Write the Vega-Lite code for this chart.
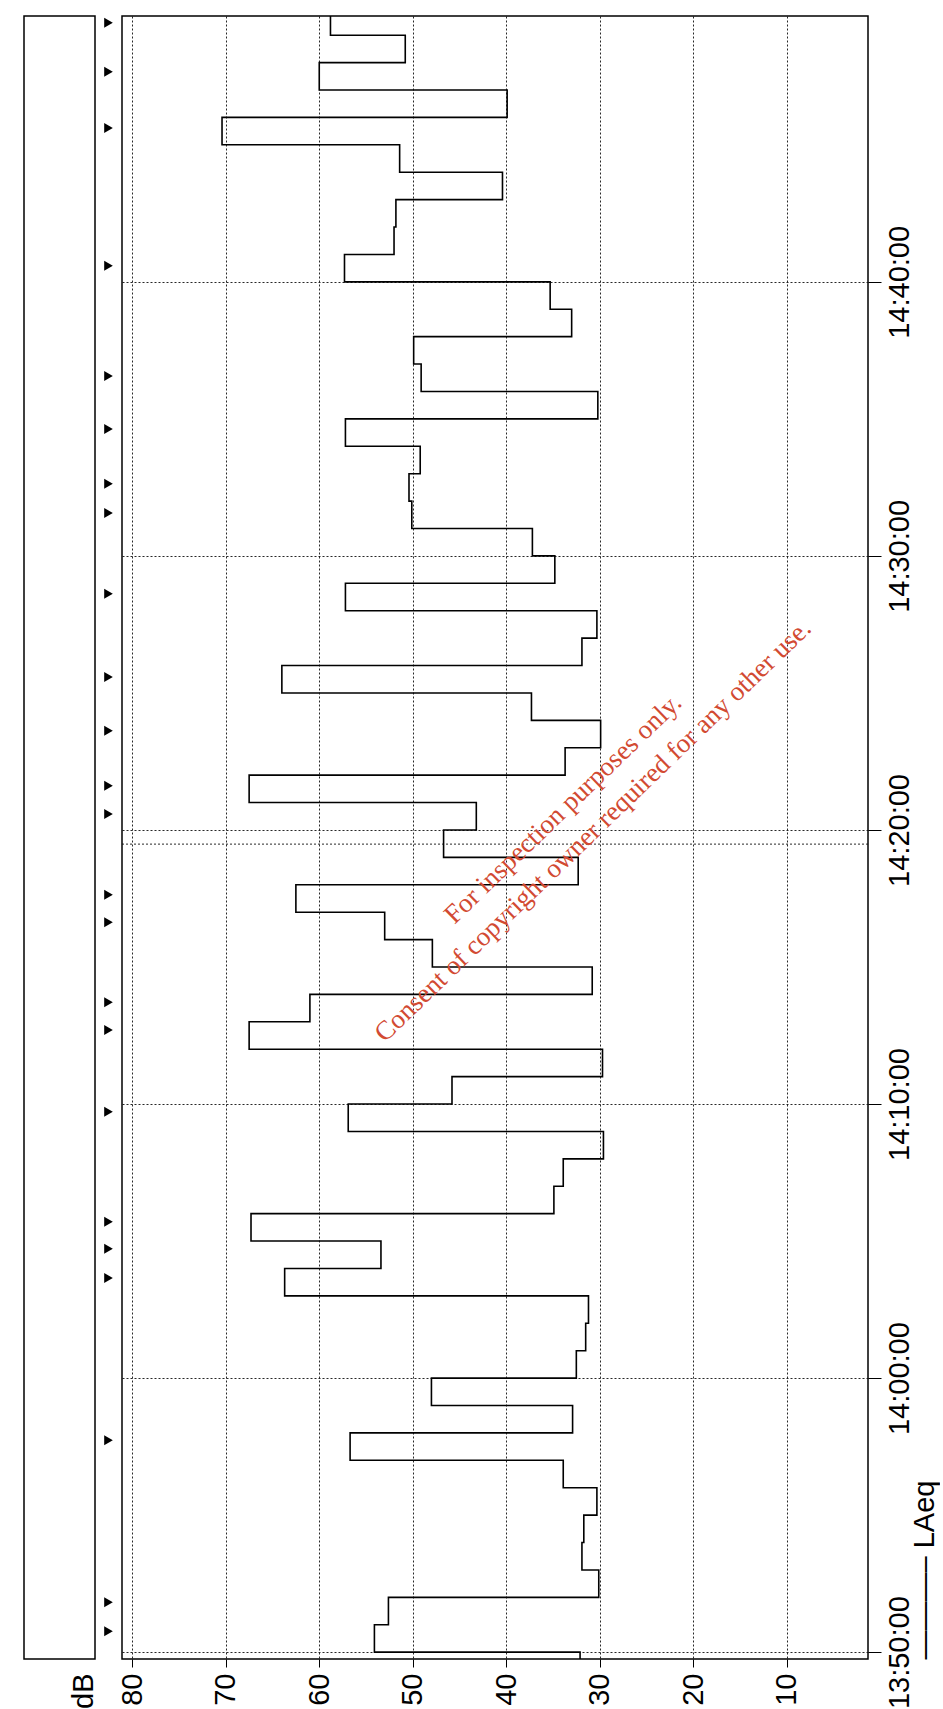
{
  "$schema": "https://vega.github.io/schema/vega-lite/v6.json",
  "background": "white",
  "padding": {"left": 23, "top": 12, "right": 0, "bottom": 0},
  "spacing": 0,
  "bounds": "flush",
  "config": {
    "view": {"stroke": "#000", "strokeWidth": 1.5},
    "font": "Liberation Sans",
    "axis": {
      "labelFont": "Liberation Sans", "titleFont": "Liberation Sans",
      "labelColor": "#000", "titleColor": "#000", "tickColor": "#000",
      "labelFontSize": 29, "titleFontSize": 29, "titleFontWeight": "normal",
      "domain": false, "grid": true, "gridColor": "#111", "gridDash": [2, 2], "gridWidth": 1, "gridOpacity": 0.9,
      "labelOverlap": false, "labelFlush": false, "labelBound": false, "tickWidth": 1
    }
  },
  "datasets": {
    "laeq": [
      {"t": "2000-01-01T13:49:45Z", "LAeq": 32.1},
      {"t": "2000-01-01T13:50:00Z", "LAeq": 54.1},
      {"t": "2000-01-01T13:51:00Z", "LAeq": 52.6},
      {"t": "2000-01-01T13:52:00Z", "LAeq": 30.1},
      {"t": "2000-01-01T13:53:00Z", "LAeq": 31.9},
      {"t": "2000-01-01T13:54:00Z", "LAeq": 31.7},
      {"t": "2000-01-01T13:55:00Z", "LAeq": 30.3},
      {"t": "2000-01-01T13:56:00Z", "LAeq": 33.9},
      {"t": "2000-01-01T13:57:00Z", "LAeq": 56.7},
      {"t": "2000-01-01T13:58:00Z", "LAeq": 32.9},
      {"t": "2000-01-01T13:59:00Z", "LAeq": 48.0},
      {"t": "2000-01-01T14:00:00Z", "LAeq": 32.5},
      {"t": "2000-01-01T14:01:00Z", "LAeq": 31.5},
      {"t": "2000-01-01T14:02:00Z", "LAeq": 31.2},
      {"t": "2000-01-01T14:03:00Z", "LAeq": 63.7},
      {"t": "2000-01-01T14:04:00Z", "LAeq": 53.4},
      {"t": "2000-01-01T14:05:00Z", "LAeq": 67.3},
      {"t": "2000-01-01T14:06:00Z", "LAeq": 34.9},
      {"t": "2000-01-01T14:07:00Z", "LAeq": 33.9},
      {"t": "2000-01-01T14:08:00Z", "LAeq": 29.6},
      {"t": "2000-01-01T14:09:00Z", "LAeq": 56.9},
      {"t": "2000-01-01T14:10:00Z", "LAeq": 45.8},
      {"t": "2000-01-01T14:11:00Z", "LAeq": 29.7},
      {"t": "2000-01-01T14:12:00Z", "LAeq": 67.5},
      {"t": "2000-01-01T14:13:00Z", "LAeq": 61.0},
      {"t": "2000-01-01T14:14:00Z", "LAeq": 30.8},
      {"t": "2000-01-01T14:15:00Z", "LAeq": 47.9},
      {"t": "2000-01-01T14:16:00Z", "LAeq": 53.0},
      {"t": "2000-01-01T14:17:00Z", "LAeq": 62.5},
      {"t": "2000-01-01T14:18:00Z", "LAeq": 32.3},
      {"t": "2000-01-01T14:19:00Z", "LAeq": 46.7},
      {"t": "2000-01-01T14:20:00Z", "LAeq": 43.2},
      {"t": "2000-01-01T14:21:00Z", "LAeq": 67.5},
      {"t": "2000-01-01T14:22:00Z", "LAeq": 33.7},
      {"t": "2000-01-01T14:23:00Z", "LAeq": 29.9},
      {"t": "2000-01-01T14:24:00Z", "LAeq": 37.3},
      {"t": "2000-01-01T14:25:00Z", "LAeq": 64.0},
      {"t": "2000-01-01T14:26:00Z", "LAeq": 31.9},
      {"t": "2000-01-01T14:27:00Z", "LAeq": 30.3},
      {"t": "2000-01-01T14:28:00Z", "LAeq": 57.2},
      {"t": "2000-01-01T14:29:00Z", "LAeq": 34.8},
      {"t": "2000-01-01T14:30:00Z", "LAeq": 37.2},
      {"t": "2000-01-01T14:31:00Z", "LAeq": 50.1},
      {"t": "2000-01-01T14:32:00Z", "LAeq": 50.4},
      {"t": "2000-01-01T14:33:00Z", "LAeq": 49.2},
      {"t": "2000-01-01T14:34:00Z", "LAeq": 57.2},
      {"t": "2000-01-01T14:35:00Z", "LAeq": 30.2},
      {"t": "2000-01-01T14:36:00Z", "LAeq": 49.1},
      {"t": "2000-01-01T14:37:00Z", "LAeq": 49.9},
      {"t": "2000-01-01T14:38:00Z", "LAeq": 33.0},
      {"t": "2000-01-01T14:39:00Z", "LAeq": 35.3},
      {"t": "2000-01-01T14:40:00Z", "LAeq": 57.3},
      {"t": "2000-01-01T14:41:00Z", "LAeq": 52.0},
      {"t": "2000-01-01T14:42:00Z", "LAeq": 51.8},
      {"t": "2000-01-01T14:43:00Z", "LAeq": 40.4},
      {"t": "2000-01-01T14:44:00Z", "LAeq": 51.4},
      {"t": "2000-01-01T14:45:00Z", "LAeq": 70.4},
      {"t": "2000-01-01T14:46:00Z", "LAeq": 39.9},
      {"t": "2000-01-01T14:47:00Z", "LAeq": 60.0},
      {"t": "2000-01-01T14:48:00Z", "LAeq": 50.8},
      {"t": "2000-01-01T14:49:00Z", "LAeq": 58.8},
      {"t": "2000-01-01T14:49:42Z", "LAeq": 58.8}
    ],
    "events": [
      {"t": "2000-01-01T13:50:46Z"},
      {"t": "2000-01-01T13:51:49Z"},
      {"t": "2000-01-01T13:57:44Z"},
      {"t": "2000-01-01T14:03:39Z"},
      {"t": "2000-01-01T14:04:43Z"},
      {"t": "2000-01-01T14:05:42Z"},
      {"t": "2000-01-01T14:09:43Z"},
      {"t": "2000-01-01T14:12:42Z"},
      {"t": "2000-01-01T14:13:43Z"},
      {"t": "2000-01-01T14:16:38Z"},
      {"t": "2000-01-01T14:17:38Z"},
      {"t": "2000-01-01T14:20:35Z"},
      {"t": "2000-01-01T14:21:37Z"},
      {"t": "2000-01-01T14:23:37Z"},
      {"t": "2000-01-01T14:25:35Z"},
      {"t": "2000-01-01T14:28:37Z"},
      {"t": "2000-01-01T14:31:34Z"},
      {"t": "2000-01-01T14:32:38Z"},
      {"t": "2000-01-01T14:34:38Z"},
      {"t": "2000-01-01T14:36:34Z"},
      {"t": "2000-01-01T14:40:35Z"},
      {"t": "2000-01-01T14:45:37Z"},
      {"t": "2000-01-01T14:47:40Z"},
      {"t": "2000-01-01T14:49:27Z"}
    ],
    "extra": [
      {"t": "2000-01-01T14:19:29Z"}
    ],
    "notes": [
      {"t": "2000-01-01T14:20:46Z", "dB": 33.9, "note": "For inspection purposes only."},
      {"t": "2000-01-01T14:19:58Z", "dB": 30.7, "note": "Consent of copyright owner required for any other use."}
    ]
  },
  "hconcat": [
    {
      "width": 71,
      "height": 1643,
      "view": {"stroke": "#000", "strokeWidth": 1.5},
      "data": {"name": "events"},
      "mark": {"type": "point", "opacity": 0},
      "encoding": {
        "y": {
          "field": "t", "type": "temporal",
          "scale": {"type": "utc", "nice": false, "domain": [
            {"year": 2000, "month": 1, "date": 1, "hours": 13, "minutes": 49, "seconds": 45, "utc": true},
            {"year": 2000, "month": 1, "date": 1, "hours": 14, "minutes": 49, "seconds": 42, "utc": true}
          ]},
          "axis": null
        }
      }
    },
    {
      "width": 27,
      "height": 1643,
      "view": {"stroke": null},
      "data": {"name": "events"},
      "mark": {"type": "point", "shape": "triangle-right", "filled": true, "color": "#000", "size": 100, "opacity": 1},
      "encoding": {
        "y": {
          "field": "t", "type": "temporal",
          "scale": {"type": "utc", "nice": false, "domain": [
            {"year": 2000, "month": 1, "date": 1, "hours": 13, "minutes": 49, "seconds": 45, "utc": true},
            {"year": 2000, "month": 1, "date": 1, "hours": 14, "minutes": 49, "seconds": 42, "utc": true}
          ]},
          "axis": null
        }
      }
    },
    {
      "width": 746,
      "height": 1643,
      "encoding": {
        "y": {
          "field": "t", "type": "temporal",
          "scale": {"type": "utc", "nice": false, "domain": [
            {"year": 2000, "month": 1, "date": 1, "hours": 13, "minutes": 49, "seconds": 45, "utc": true},
            {"year": 2000, "month": 1, "date": 1, "hours": 14, "minutes": 49, "seconds": 42, "utc": true}
          ]},
          "axis": {
            "orient": "right",
            "title": "———–  LAeq",
            "values": [
              {"year": 2000, "month": 1, "date": 1, "hours": 13, "minutes": 50, "utc": true},
              {"year": 2000, "month": 1, "date": 1, "hours": 14, "minutes": 0, "utc": true},
              {"year": 2000, "month": 1, "date": 1, "hours": 14, "minutes": 10, "utc": true},
              {"year": 2000, "month": 1, "date": 1, "hours": 14, "minutes": 20, "utc": true},
              {"year": 2000, "month": 1, "date": 1, "hours": 14, "minutes": 30, "utc": true},
              {"year": 2000, "month": 1, "date": 1, "hours": 14, "minutes": 40, "utc": true}
            ],
            "labelExpr": "utcFormat(datum.value, '%H:%M:%S')",
            "labelAngle": 270, "labelAlign": "center", "labelBaseline": "top", "labelPadding": 4, "tickSize": 13,
            "titleAngle": 270, "titleAlign": "left", "titleBaseline": "alphabetic", "titleX": 65, "titleY": 1643
          }
        }
      },
      "layer": [
        {
          "data": {"name": "extra"},
          "mark": {"type": "rule", "strokeDash": [2, 2], "color": "#111", "strokeWidth": 1, "opacity": 0.9}
        },
        {
          "data": {"name": "laeq"},
          "mark": {"type": "line", "interpolate": "step-before", "orient": "vertical", "color": "#000", "strokeWidth": 1.6},
          "encoding": {
            "x": {
              "field": "LAeq", "type": "quantitative",
              "scale": {"domain": [1.3, 81.1], "reverse": true, "nice": false, "zero": false},
              "axis": {
                "values": [80, 70, 60, 50, 40, 30, 20, 10],
                "title": "dB",
                "labelAngle": 270, "labelAlign": "right", "labelBaseline": "middle", "labelPadding": 6, "tickSize": 8,
                "titleAngle": 270, "titleAlign": "right", "titleBaseline": "middle", "titleX": -39, "titleY": 14
              }
            },
            "order": {"field": "t", "type": "temporal"}
          }
        },
        {
          "data": {"name": "notes"},
          "mark": {"type": "text", "font": "Liberation Serif", "fontSize": 27, "angle": 316, "color": "#d24a32", "align": "center", "baseline": "middle"},
          "encoding": {
            "x": {"field": "dB", "type": "quantitative", "title": "dB",
              "scale": {"domain": [1.3, 81.1], "reverse": true, "nice": false, "zero": false}},
            "text": {"field": "note"}
          }
        }
      ]
    }
  ]
}
